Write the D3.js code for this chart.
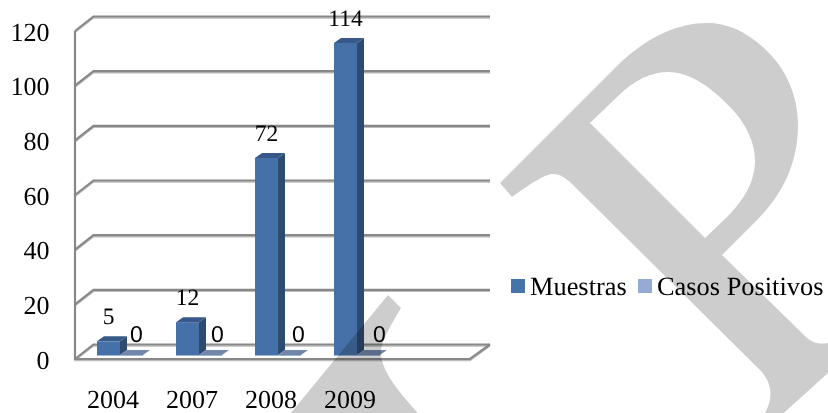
<!DOCTYPE html>
<html><head><meta charset="utf-8">
<script src="https://cdn.jsdelivr.net/npm/d3@7"></script>
<style>
html,body{margin:0;padding:0;background:#fff}
svg{display:block}
text{font-family:"Liberation Serif",serif;fill:#000;text-rendering:geometricPrecision}
.domain{display:none}
</style></head><body>
<svg id="c" width="828" height="413"></svg>
<script>
const categories = ["2004","2007","2008","2009"];
const muestras = [5,12,72,114];
const casosPositivos = [0,0,0,0];
const seriesNames = ["Muestras","Casos Positivos"];
const yTicks = [0,20,40,60,80,100,120];

const svg = d3.select("#c");
const W = {frontX:75, frontR:470, frontBase:359, frontTop:31, dx:18.5, dy:-14.5};
const yFront = d3.scaleLinear().domain([0,120]).range([W.frontBase,W.frontTop]);
const yBack = v => yFront(v)+W.dy;
const yBar = d3.scaleLinear().domain([0,120]).range([355,26.5]);
const x = d3.scaleBand().domain(categories).range([69,385]);
const xZero = d3.scaleBand().domain(categories).range([96,420]);
const barW = 23, depthX = 7, depthY = -5, grid = "#888888";
const barX = c => x(c)+x.bandwidth()/2-barW/2;

// walls
const gridPath = v=>`M${W.frontX},${yFront(v)}L${W.frontX+W.dx},${yBack(v)}L490,${yBack(v)}`;
const framePath = `M${W.frontX},${yFront(120)}V${yFront(0)}H${W.frontR}L490,${yBack(0)}`;
const shadow = svg.append("g").attr("fill","none").attr("stroke","#bdbdbd").attr("stroke-width",1.5).attr("transform","translate(0,1.5)");
shadow.selectAll("path.g").data(yTicks).join("path").attr("class","g").attr("d",gridPath);
shadow.append("path").attr("d",framePath);
const walls = svg.append("g").attr("fill","none").attr("stroke",grid).attr("stroke-width",2.2);
walls.selectAll("path.g").data(yTicks).join("path").attr("class","g").attr("d",gridPath);
walls.append("path").attr("d",framePath);

// bars
const g = svg.append("g");
categories.forEach((c,i)=>{
  const x0 = barX(c), x1 = x0+barW;
  const yt = yBar(muestras[i]), yb = yBar(0);
  g.append("path").attr("fill","#2d4a70")
    .attr("d",`M${x1},${yb}L${x1+depthX},${yb+depthY}V${yt+depthY}L${x1},${yt}Z`);
  g.append("path").attr("fill","#36598a")
    .attr("d",`M${x0},${yt}L${x0+depthX},${yt+depthY}H${x1+depthX}L${x1},${yt}Z`);
  g.append("rect").attr("x",x0).attr("y",yt).attr("width",barW).attr("height",yb-yt).attr("fill","#4571a8");
  const yc = yBar(casosPositivos[i]);
  g.append("path").attr("fill","#7186a9")
    .attr("d",`M${x1},${yc}L${x1+depthX},${yc+depthY}H${x1+barW+depthX}L${x1+barW},${yc}Z`);
  g.append("line").attr("x1",x0).attr("x2",x1+barW).attr("y1",yb+.5).attr("y2",yb+.5)
    .attr("stroke","#9db8dc").attr("stroke-width",1);
});

// axes
const axY = d3.axisLeft(yFront).tickValues(yTicks).tickSize(0).tickPadding(0);
svg.append("g").attr("transform","translate(49.5,1)").call(axY)
  .call(s=>s.selectAll("text").attr("font-size",26).attr("font-family","Liberation Serif").attr("fill","#000"));
const axX = d3.axisBottom(x).tickSize(0).tickPadding(0);
svg.append("g").attr("transform","translate(4.5,390)").call(axX)
  .call(s=>s.selectAll("text").attr("font-size",26).attr("font-family","Liberation Serif").attr("fill","#000"));

// data labels
const lab = svg.append("g").attr("text-anchor","middle");
lab.selectAll("text.m").data(muestras).join("text").attr("class","m")
  .attr("font-size",23.5)
  .attr("x",(d,i)=>barX(categories[i])+11.5)
  .attr("y",d=>yBar(d)-17)
  .text(d=>d);
lab.selectAll("text.p").data(casosPositivos).join("text").attr("class","p")
  .attr("font-size",23).style("font-family","'Liberation Sans',sans-serif")
  .attr("x",(d,i)=>xZero(categories[i])+xZero.bandwidth()/2)
  .attr("y",d=>yBar(d)-13)
  .text(d=>d);

// legend
const colors = ["#4674a9","#95abd3"], legX = [511,638];
const leg = svg.append("g");
seriesNames.forEach((n,i)=>{
  leg.append("rect").attr("x",legX[i]).attr("y",279).attr("width",14).attr("height",14).attr("fill",colors[i]);
  leg.append("text").attr("x",legX[i]+19).attr("y",295).attr("font-size",26.4).text(n);
});

// watermark (decorative background letter)
const wm = svg.append("g").style("mix-blend-mode","multiply").attr("fill","#cdcdcd");
const outer = "M500,183 L512,197 C530,184 545,174 553,174 C560,174 566,178 572,184 L760,370 C770,380 775,395 765,413 L765,420 L776,420 L828,373 L828,343 C818,345 811,342 805,336 L722,255 L757,220 C785,192 798,160 798,125 C798,95 786,70 768,52 C748,32 728,23 707,23 C680,23 650,35 620,63 Z";
const counter = "M590,123 L617,97 C635,79 652,72 668,72 C690,72 712,88 730,107 C745,122 755,142 755,160 C755,182 744,200 727,217 L705,238 Z";
wm.append("path").attr("fill-rule","evenodd").attr("d",outer+counter);
wm.append("path").attr("d","M388,295 L401,308 C385,335 378,348 382,360 C386,377 400,393 424,420 L285,420 Z");
</script>
</body></html>
